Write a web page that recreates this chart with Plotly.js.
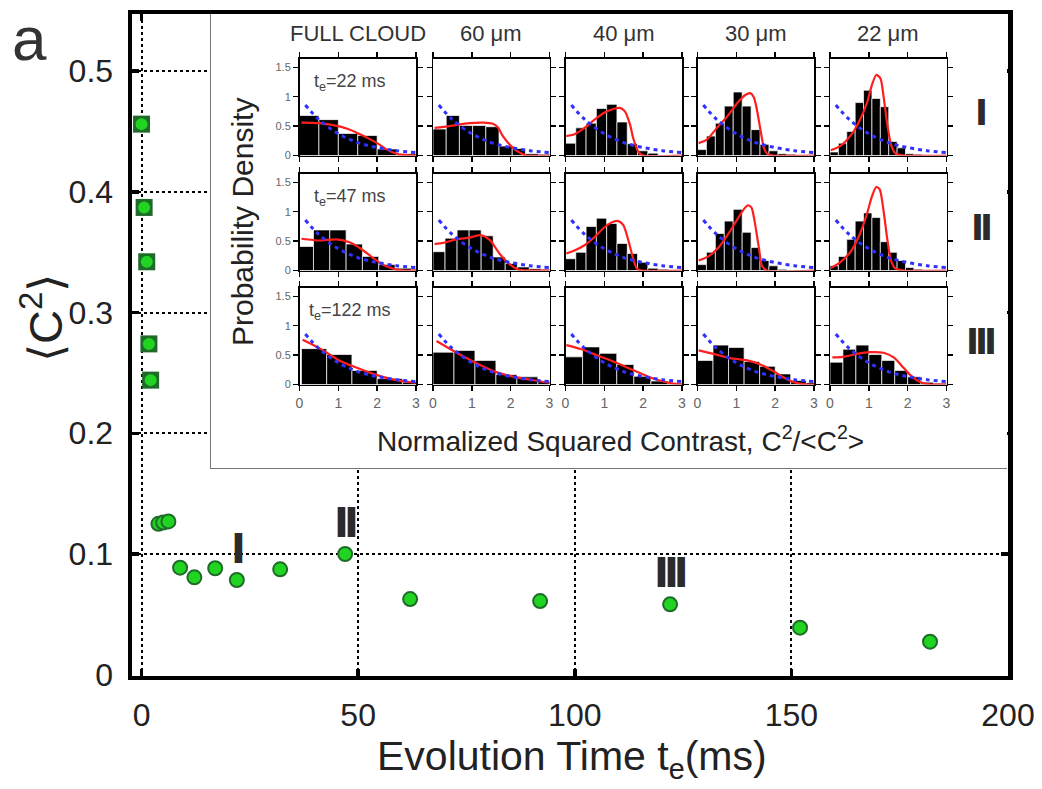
<!DOCTYPE html>
<html>
<head>
<meta charset="utf-8">
<script src="https://cdn.plot.ly/plotly-3.0.1.min.js"></script>
<style>html,body{margin:0;padding:0;background:#fff}#chart{width:1042px;height:789px}</style>
</head>
<body>
<div id="chart"></div>
<script>
// ---------------- main series ----------------
const TE_MS   = [0, 0.6, 1.2, 1.7, 2.1, 3.9, 5.0, 6.2, 8.9, 12.2, 17, 22, 32, 47, 62, 92, 122, 152, 182];
const C2_MEAN = [0.456, 0.387, 0.342, 0.274, 0.244, 0.125, 0.126, 0.127, 0.0887, 0.0807, 0.0882, 0.0785, 0.0873, 0.100, 0.0627, 0.061, 0.0583, 0.039, 0.0274];
const EARLY_COUNT = 5;
const MAIN_XTICKS = [0, 50, 100, 150, 200];
const MAIN_YTICKS = [0, 0.1, 0.2, 0.3, 0.4, 0.5];
const MAIN_YTICKTEXT = ['0', '0.1', '0.2', '0.3', '0.4', '0.5'];
const ROMAN = ['I', 'II', 'III'];
const ROMAN_TE = [22, 47, 122];

// ---------------- inset ----------------
const INSET_COLS = ['FULL CLOUD', '60 μm', '40 μm', '30 μm', '22 μm'];
const INSET_ROW_TE = [22, 47, 122];
const INSET_XTICKS = [0, 1, 2, 3];
const INSET_YTICKS = [0, 0.5, 1, 1.5];
const INSET_YTICKTEXT = ['0', '0.5', '1', '1.5'];

const BIN_W = [
  [0.5, 0.34, 0.265, 0.23, 0.216],
  [0.42, 0.31, 0.265, 0.23, 0.216],
  [0.65, 0.54, 0.44, 0.4, 0.3333]
];
const BIN_X0 = [
  [0, 0, 0, 0, 0],
  [-0.06, 0, 0, 0, 0],
  [0.05, 0, 0, 0, 0]
];

const HIST_R1C1 = [0.68, 0.61, 0.375, 0.34, 0.11, 0.03];
const HIST_R1C2 = [0.45, 0.68, 0.51, 0.51, 0.49, 0.16, 0.12, 0.03, 0.02];
const HIST_R1C3 = [0.21, 0.47, 0.55, 0.8, 0.87, 0.57, 0.2, 0.08, 0.04, 0.01, 0.01, 0.005];
const HIST_R1C4 = [0.1, 0.33, 0.55, 0.84, 1.08, 0.84, 0.44, 0.19, 0.08, 0.03, 0.02, 0.01, 0.01, 0.01];
const HIST_R1C5 = [0.06, 0.21, 0.41, 0.9, 1.11, 0.97, 0.83, 0.24, 0.13, 0.03, 0.02, 0.01, 0.01, 0.01];

const HIST_R2C1 = [0.41, 0.69, 0.69, 0.45, 0.24, 0.1, 0.04, 0.02];
const HIST_R2C2 = [0.32, 0.55, 0.69, 0.69, 0.59, 0.23, 0.12, 0.06, 0.03, 0.02];
const HIST_R2C3 = [0.2, 0.31, 0.75, 0.89, 0.8, 0.46, 0.29, 0.14, 0.04, 0.02, 0.01, 0.005];
const HIST_R2C4 = [0.1, 0.31, 0.63, 0.84, 1.04, 0.65, 0.39, 0.17, 0.08, 0.02, 0.01, 0.01, 0.01, 0.01];
const HIST_R2C5 = [0.08, 0.24, 0.53, 0.84, 0.98, 0.9, 0.49, 0.31, 0.17, 0.05, 0.02, 0.01, 0.01, 0.01];

const HIST_R3C1 = [0.61, 0.51, 0.24, 0.1, 0.04];
const HIST_R3C2 = [0.55, 0.58, 0.41, 0.17, 0.13, 0.05];
const HIST_R3C3 = [0.47, 0.64, 0.53, 0.34, 0.14, 0.06, 0.02];
const HIST_R3C4 = [0.41, 0.67, 0.63, 0.39, 0.31, 0.18, 0.07, 0.03];
const HIST_R3C5 = [0.38, 0.6, 0.67, 0.51, 0.41, 0.24, 0.13, 0.04, 0.02];

// red model curves: [x, density]
const RED_R1C1 = [[0.05,0.56],[0.5,0.55],[1,0.5],[1.25,0.45],[1.5,0.38],[1.75,0.3],[2,0.21],[2.25,0.1],[2.5,0.03],[2.75,0.005],[3,0]];
const RED_R1C2 = [[0.04,0.47],[0.43,0.5],[0.94,0.55],[1.3,0.56],[1.54,0.54],[1.67,0.48],[1.8,0.33],[2.01,0.16],[2.23,0.05],[2.4,0],[3,0]];
const RED_R1C3 = [[0.02,0.33],[0.23,0.36],[0.49,0.47],[0.75,0.61],[1.01,0.73],[1.23,0.79],[1.4,0.81],[1.53,0.75],[1.66,0.53],[1.75,0.28],[1.88,0.06],[2.0,0],[3,0]];
const RED_R1C4 = [[0.03,0.21],[0.24,0.27],[0.5,0.47],[0.76,0.66],[1.02,0.89],[1.23,1.03],[1.36,1.06],[1.45,0.99],[1.53,0.78],[1.62,0.44],[1.71,0.13],[1.79,0.03],[1.95,0],[3,0]];
const RED_R1C5 = [[0.02,0.09],[0.26,0.16],[0.52,0.33],[0.73,0.55],[0.95,0.89],[1.08,1.2],[1.19,1.37],[1.3,1.31],[1.38,1.0],[1.47,0.55],[1.57,0.19],[1.69,0.03],[1.9,0],[3,0]];

const RED_R2C1 = [[0.05,0.54],[0.53,0.51],[0.95,0.53],[1.29,0.48],[1.58,0.37],[1.88,0.22],[2.14,0.1],[2.47,0.02],[2.73,0],[3,0]];
const RED_R2C2 = [[0.04,0.45],[0.26,0.47],[0.6,0.53],[0.94,0.56],[1.24,0.6],[1.46,0.52],[1.71,0.29],[1.97,0.11],[2.23,0.01],[2.5,0],[3,0]];
const RED_R2C3 = [[0.02,0.29],[0.23,0.34],[0.49,0.43],[0.75,0.57],[1.01,0.74],[1.23,0.83],[1.36,0.84],[1.49,0.77],[1.62,0.51],[1.73,0.23],[1.84,0.03],[1.97,0],[3,0]];
const RED_R2C4 = [[0.03,0.17],[0.28,0.24],[0.54,0.39],[0.76,0.59],[0.97,0.81],[1.19,1.04],[1.3,1.11],[1.39,1.07],[1.47,0.84],[1.58,0.39],[1.66,0.08],[1.79,0],[3,0]];
const RED_R2C5 = [[0.02,0.04],[0.26,0.14],[0.52,0.31],[0.73,0.56],[0.95,0.96],[1.08,1.26],[1.19,1.42],[1.28,1.38],[1.38,1.01],[1.47,0.56],[1.57,0.17],[1.69,0.03],[1.9,0],[3,0]];

const RED_R3C1 = [[0.08,0.76],[0.53,0.61],[1.02,0.41],[1.46,0.29],[2,0.16],[2.52,0.07],[3,0.03]];
const RED_R3C2 = [[0.09,0.74],[0.53,0.57],[1.07,0.38],[1.63,0.21],[2.16,0.12],[2.7,0.06],[3,0.03]];
const RED_R3C3 = [[0.02,0.67],[0.41,0.6],[0.84,0.49],[1.31,0.37],[1.79,0.23],[2.22,0.11],[2.65,0.03],[3,0]];
const RED_R3C4 = [[0.03,0.58],[0.41,0.52],[0.84,0.45],[1.28,0.41],[1.62,0.34],[1.97,0.22],[2.22,0.12],[2.48,0.04],[2.8,0],[3,0]];
const RED_R3C5 = [[0.06,0.46],[0.33,0.47],[0.69,0.52],[1.02,0.55],[1.38,0.54],[1.64,0.46],[1.9,0.28],[2.07,0.16],[2.33,0.04],[2.6,0],[3,0]];

// blue dashed reference curve (same in every panel)
const BLUE_X = [0.15, 0.5, 1, 1.5, 2, 2.5, 3];
const BLUE_Y = [0.86, 0.61, 0.37, 0.22, 0.135, 0.082, 0.05];

const HIST = [
  [HIST_R1C1, HIST_R1C2, HIST_R1C3, HIST_R1C4, HIST_R1C5],
  [HIST_R2C1, HIST_R2C2, HIST_R2C3, HIST_R2C4, HIST_R2C5],
  [HIST_R3C1, HIST_R3C2, HIST_R3C3, HIST_R3C4, HIST_R3C5]
];
const RED = [
  [RED_R1C1, RED_R1C2, RED_R1C3, RED_R1C4, RED_R1C5],
  [RED_R2C1, RED_R2C2, RED_R2C3, RED_R2C4, RED_R2C5],
  [RED_R3C1, RED_R3C2, RED_R3C3, RED_R3C4, RED_R3C5]
];

// ---------------- geometry / style ----------------
const W = 1042, H = 789;
const FONT = 'Liberation Sans, Arial, Helvetica, sans-serif';
const BOLD = 'DejaVu Sans, Liberation Sans, Arial, sans-serif';
const fx = p => p / W;
const fy = p => 1 - p / H;

const COL_LEFT = [299.5, 433, 565.5, 697.5, 830];
const COL_W = 116.5;
const ROW_TOP = [58.5, 173.5, 287.5];
const ROW_H = 97;

const traces = [];
const layout = {
  width: W, height: H,
  margin: {l: 0, r: 0, t: 0, b: 0},
  paper_bgcolor: '#ffffff',
  plot_bgcolor: '#ffffff',
  showlegend: false,
  font: {family: FONT, color: '#222'},
  annotations: []
};

// main axes
layout.xaxis = {
  domain: [fx(132), fx(1008)], range: [-2.2, 200],
  tickmode: 'array', tickvals: MAIN_XTICKS,
  ticks: 'inside', ticklen: 7, tickwidth: 3.5, tickcolor: '#000',
  showline: true, linewidth: 4.5, linecolor: '#000', mirror: 'ticks',
  showgrid: true, gridcolor: '#000', gridwidth: 2, griddash: 'dot',
  zeroline: false, fixedrange: true,
  tickfont: {family: FONT, size: 32, color: '#222'},
  ticklabelstandoff: 8
};
layout.yaxis = {
  domain: [fy(675.5), fy(14)], range: [-0.0006, 0.5472],
  tickmode: 'array', tickvals: MAIN_YTICKS, ticktext: MAIN_YTICKTEXT,
  ticks: 'inside', ticklen: 7, tickwidth: 3.5, tickcolor: '#000',
  showline: true, linewidth: 4.5, linecolor: '#000', mirror: 'ticks',
  showgrid: true, gridcolor: '#000', gridwidth: 2, griddash: 'dot',
  zeroline: false, fixedrange: true,
  tickfont: {family: FONT, size: 32, color: '#222'},
  ticklabelstandoff: 8
};

traces.push({
  type: 'scatter', mode: 'markers', xaxis: 'x', yaxis: 'y',
  x: TE_MS.slice(0, EARLY_COUNT), y: C2_MEAN.slice(0, EARLY_COUNT),
  marker: {symbol: 'square', size: 17, color: '#1f6b2a', line: {width: 0}},
  hoverinfo: 'skip', cliponaxis: false
});
traces.push({
  type: 'scatter', mode: 'markers', xaxis: 'x', yaxis: 'y',
  x: TE_MS, y: C2_MEAN, name: '<C²>',
  marker: {symbol: 'circle', size: 14, color: '#22d422', line: {width: 2, color: '#1f6b2a'}},
  cliponaxis: false
});

// inset background subplot (covers the main grid)
layout.xaxis2 = {
  domain: [fx(211), fx(1007)], range: [0, 1], anchor: 'y2',
  showline: true, linecolor: '#777', linewidth: 1.3, mirror: false,
  showgrid: false, zeroline: false, showticklabels: false, ticks: '', fixedrange: true
};
layout.yaxis2 = {
  domain: [fy(468), fy(14)], range: [0, 1], anchor: 'x2',
  showline: true, linecolor: '#777', linewidth: 1.3, mirror: false,
  showgrid: false, zeroline: false, showticklabels: false, ticks: '', fixedrange: true
};
traces.push({type: 'scatter', mode: 'markers', x: [], y: [], xaxis: 'x2', yaxis: 'y2', hoverinfo: 'skip'});

// inset panels
for (let r = 0; r < 3; r++) {
  for (let c = 0; c < 5; c++) {
    const n = 3 + r * 5 + c;
    const xa = 'x' + n, ya = 'y' + n;
    layout['xaxis' + n] = {
      domain: [fx(COL_LEFT[c]), fx(COL_LEFT[c] + COL_W)], range: [0, 3], anchor: ya,
      tickmode: 'array', tickvals: INSET_XTICKS,
      showticklabels: r === 2,
      ticks: 'outside', ticklen: 5, tickwidth: 1.5, tickcolor: '#000',
      showline: true, linecolor: '#000', linewidth: 1.5, mirror: 'ticks',
      showgrid: false, zeroline: false, fixedrange: true,
      tickfont: {family: FONT, size: 14, color: '#666'}
    };
    layout['yaxis' + n] = {
      domain: [fy(ROW_TOP[r] + ROW_H), fy(ROW_TOP[r])], range: [0, 1.65], anchor: xa,
      tickmode: 'array', tickvals: INSET_YTICKS, ticktext: INSET_YTICKTEXT,
      showticklabels: c === 0,
      ticks: 'outside', ticklen: 5, tickwidth: 1.5, tickcolor: '#000',
      showline: true, linecolor: '#000', linewidth: 1.5, mirror: 'ticks',
      showgrid: false, zeroline: false, fixedrange: true,
      tickfont: {family: FONT, size: 11, color: '#666'}
    };
    const h = HIST[r][c], w = BIN_W[r][c], x0 = BIN_X0[r][c];
    traces.push({
      type: 'bar', xaxis: xa, yaxis: ya,
      x: h.map((_, i) => x0 + (i + 0.5) * w), y: h, width: w,
      marker: {color: '#000', line: {color: '#fff', width: 0.7}},
      hoverinfo: 'skip'
    });
    const red = RED[r][c];
    traces.push({
      type: 'scatter', mode: 'lines', xaxis: xa, yaxis: ya,
      x: red.map(p => p[0]), y: red.map(p => p[1]),
      line: {color: '#ff1e1e', width: 2.2, shape: 'spline', smoothing: 0.7},
      hoverinfo: 'skip'
    });
    traces.push({
      type: 'scatter', mode: 'lines', xaxis: xa, yaxis: ya,
      x: BLUE_X, y: BLUE_Y,
      line: {color: '#3030ff', width: 3, dash: '4px,4px', shape: 'spline'},
      hoverinfo: 'skip'
    });
  }
  // t_e label in first column
  layout.annotations.push({
    xref: 'x' + (3 + r * 5), yref: 'y' + (3 + r * 5),
    x: 1.3, y: 1.25, xanchor: 'center', yanchor: 'middle',
    text: 't<sub>e</sub>=' + INSET_ROW_TE[r] + ' ms', showarrow: false,
    font: {family: FONT, size: 18, color: '#444'}
  });
  // row roman numeral
  layout.annotations.push({
    xref: 'paper', yref: 'paper',
    x: fx(980), y: fy(ROW_TOP[r] + ROW_H / 2 + 6), xanchor: 'center', yanchor: 'middle',
    text: '<b><span style="letter-spacing:-4px">' + ROMAN[r] + '</span></b>', showarrow: false,
    font: {family: BOLD, size: 35, color: '#2b2b2b'}
  });
}

// column titles
INSET_COLS.forEach((t, c) => {
  layout.annotations.push({
    xref: 'paper', yref: 'paper',
    x: fx(COL_LEFT[c] + COL_W / 2), y: fy(34), xanchor: 'center', yanchor: 'middle',
    text: t, showarrow: false, font: {family: FONT, size: 22, color: '#333'}
  });
});

// inset axis titles
layout.annotations.push({
  xref: 'paper', yref: 'paper', x: fx(620), y: fy(439), xanchor: 'center', yanchor: 'middle',
  text: 'Normalized Squared Contrast, C<sup>2</sup>/&lt;C<sup>2</sup>&gt;', showarrow: false,
  font: {family: FONT, size: 28, color: '#222'}
});
layout.annotations.push({
  xref: 'paper', yref: 'paper', x: fx(243), y: fy(222), xanchor: 'center', yanchor: 'middle',
  text: 'Probability Density', textangle: -90, showarrow: false,
  font: {family: FONT, size: 30, color: '#222'}
});

// main roman labels over points
ROMAN_TE.forEach((te, k) => {
  const idx = TE_MS.indexOf(te);
  layout.annotations.push({
    xref: 'x', yref: 'y', x: te, y: C2_MEAN[idx], yshift: 31,
    xanchor: 'center', yanchor: 'middle',
    text: '<b><span style="letter-spacing:-5px">' + ROMAN[k] + '</span></b>', showarrow: false,
    font: {family: BOLD, size: 40, color: '#2b2b2b'}
  });
});

// main axis titles & panel letter
layout.annotations.push({
  xref: 'paper', yref: 'paper', x: fx(572), y: fy(759), xanchor: 'center', yanchor: 'middle',
  text: 'Evolution Time t<sub>e</sub>(ms)', showarrow: false,
  font: {family: FONT, size: 41, color: '#222'}
});
layout.annotations.push({
  xref: 'paper', yref: 'paper', x: fx(42), y: fy(318), xanchor: 'center', yanchor: 'middle',
  text: '⟨C<sup>2</sup>⟩', textangle: -90, showarrow: false,
  font: {family: FONT, size: 47, color: '#222'}
});
layout.annotations.push({
  xref: 'paper', yref: 'paper', x: fx(29), y: fy(39), xanchor: 'center', yanchor: 'middle',
  text: 'a', showarrow: false,
  font: {family: FONT, size: 62, color: '#333'}
});

Plotly.newPlot('chart', traces, layout, {staticPlot: true, displayModeBar: false});
</script>
</body>
</html>
